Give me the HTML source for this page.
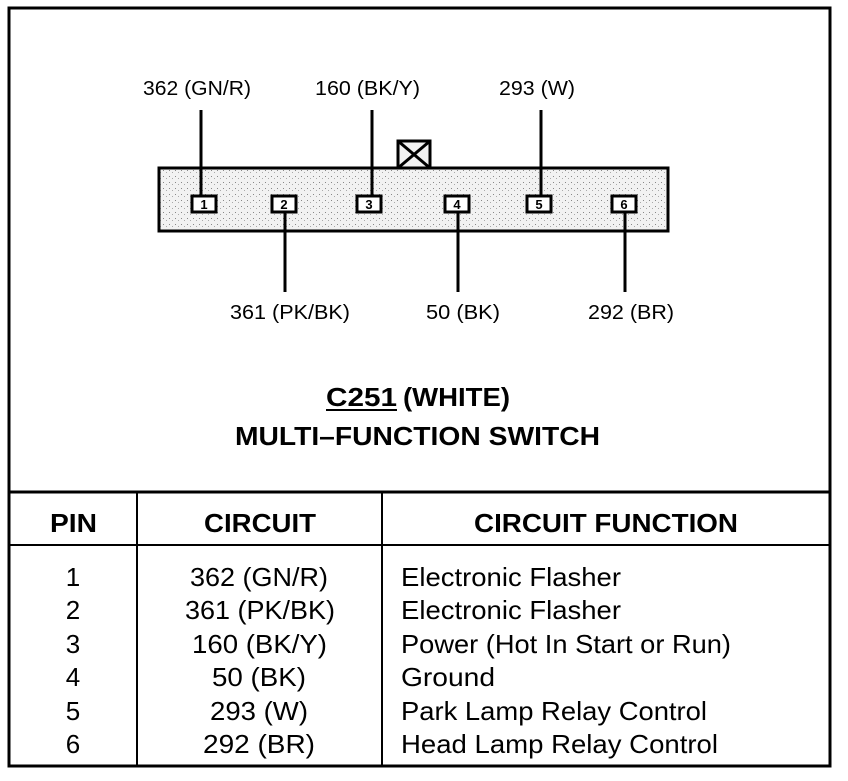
<!DOCTYPE html>
<html><head><style>
html,body{margin:0;padding:0;background:#fff;}
svg text{font-family:"Liberation Sans",Arial,sans-serif;fill:#000;}
</style></head><body>
<svg width="848" height="776" viewBox="0 0 848 776" xmlns="http://www.w3.org/2000/svg">
<defs>
<pattern id="dots" width="6" height="6" patternUnits="userSpaceOnUse">
<rect width="6" height="6" fill="#f2f2f2"/>
<rect x="1" y="2" width="1" height="1" fill="#888"/>
<rect x="4" y="4" width="1" height="1" fill="#aaa"/>
</pattern>
</defs>
<rect x="9" y="8" width="821" height="758" fill="none" stroke="#000" stroke-width="3"/>
<line x1="9" y1="492" x2="830" y2="492" stroke="#000" stroke-width="3"/>
<line x1="9" y1="545" x2="830" y2="545" stroke="#000" stroke-width="2"/>
<line x1="137" y1="492" x2="137" y2="766" stroke="#000" stroke-width="2"/>
<line x1="382" y1="492" x2="382" y2="766" stroke="#000" stroke-width="2"/>

<rect x="398" y="141" width="32" height="27" fill="#f2f2f2" stroke="#000" stroke-width="3"/>
<line x1="398" y1="141" x2="430" y2="168" stroke="#000" stroke-width="3"/>
<line x1="430" y1="141" x2="398" y2="168" stroke="#000" stroke-width="3"/>
<rect x="159" y="168" width="509" height="63" fill="url(#dots)" stroke="#000" stroke-width="3"/>

<g stroke="#000" stroke-width="3">
<line x1="201" y1="110" x2="201" y2="198"/>
<line x1="372" y1="110" x2="372" y2="198"/>
<line x1="541" y1="110" x2="541" y2="198"/>
<line x1="285" y1="212" x2="285" y2="292"/>
<line x1="458" y1="212" x2="458" y2="292"/>
<line x1="625" y1="212" x2="625" y2="292"/>
</g>
<g fill="#fff" stroke="#000" stroke-width="3">
<rect x="192" y="196" width="24" height="16"/>
<rect x="272" y="196" width="24" height="16"/>
<rect x="357" y="196" width="24" height="16"/>
<rect x="445" y="196" width="24" height="16"/>
<rect x="527" y="196" width="24" height="16"/>
<rect x="612" y="196" width="24" height="16"/>
</g>
<g font-size="13" font-weight="bold" text-anchor="middle">
<text x="204" y="209">1</text><text x="284" y="209">2</text><text x="369" y="209">3</text>
<text x="457" y="209">4</text><text x="539" y="209">5</text><text x="624" y="209">6</text>
</g>

<g font-size="20">
<text x="143" y="95" textLength="108" lengthAdjust="spacingAndGlyphs">362 (GN/R)</text>
<text x="315" y="95" textLength="105" lengthAdjust="spacingAndGlyphs">160 (BK/Y)</text>
<text x="499" y="95" textLength="76" lengthAdjust="spacingAndGlyphs">293 (W)</text>
<text x="230" y="319" textLength="120" lengthAdjust="spacingAndGlyphs">361 (PK/BK)</text>
<text x="426" y="319" textLength="74" lengthAdjust="spacingAndGlyphs">50 (BK)</text>
<text x="588" y="319" textLength="86" lengthAdjust="spacingAndGlyphs">292 (BR)</text>
</g>
<g font-size="26" font-weight="bold">
<text x="326" y="406" textLength="71" lengthAdjust="spacingAndGlyphs">C251</text>
<text x="403" y="406" textLength="107" lengthAdjust="spacingAndGlyphs">(WHITE)</text>
<text x="235" y="445" textLength="365" lengthAdjust="spacingAndGlyphs">MULTI–FUNCTION SWITCH</text>
<text x="50" y="532" textLength="47" lengthAdjust="spacingAndGlyphs">PIN</text>
<text x="204" y="532" textLength="112" lengthAdjust="spacingAndGlyphs">CIRCUIT</text>
<text x="474" y="532" textLength="264" lengthAdjust="spacingAndGlyphs">CIRCUIT FUNCTION</text>
</g>
<line x1="326" y1="410" x2="397" y2="410" stroke="#000" stroke-width="2"/>
<g font-size="26">
<g text-anchor="middle">
<text x="73" y="586">1</text><text x="73" y="619">2</text><text x="73" y="653">3</text>
<text x="73" y="686">4</text><text x="73" y="720">5</text><text x="73" y="753">6</text>
</g>
<text x="190" y="586" textLength="138" lengthAdjust="spacingAndGlyphs">362 (GN/R)</text>
<text x="185" y="619" textLength="150" lengthAdjust="spacingAndGlyphs">361 (PK/BK)</text>
<text x="192" y="653" textLength="135" lengthAdjust="spacingAndGlyphs">160 (BK/Y)</text>
<text x="212" y="686" textLength="94" lengthAdjust="spacingAndGlyphs">50 (BK)</text>
<text x="210" y="720" textLength="98" lengthAdjust="spacingAndGlyphs">293 (W)</text>
<text x="203" y="753" textLength="112" lengthAdjust="spacingAndGlyphs">292 (BR)</text>
<text x="401" y="586" textLength="220" lengthAdjust="spacingAndGlyphs">Electronic Flasher</text>
<text x="401" y="619" textLength="220" lengthAdjust="spacingAndGlyphs">Electronic Flasher</text>
<text x="401" y="653" textLength="330" lengthAdjust="spacingAndGlyphs">Power (Hot In Start or Run)</text>
<text x="401" y="686" textLength="94" lengthAdjust="spacingAndGlyphs">Ground</text>
<text x="401" y="720" textLength="306" lengthAdjust="spacingAndGlyphs">Park Lamp Relay Control</text>
<text x="401" y="753" textLength="317" lengthAdjust="spacingAndGlyphs">Head Lamp Relay Control</text>
</g>
</svg>
</body></html>
